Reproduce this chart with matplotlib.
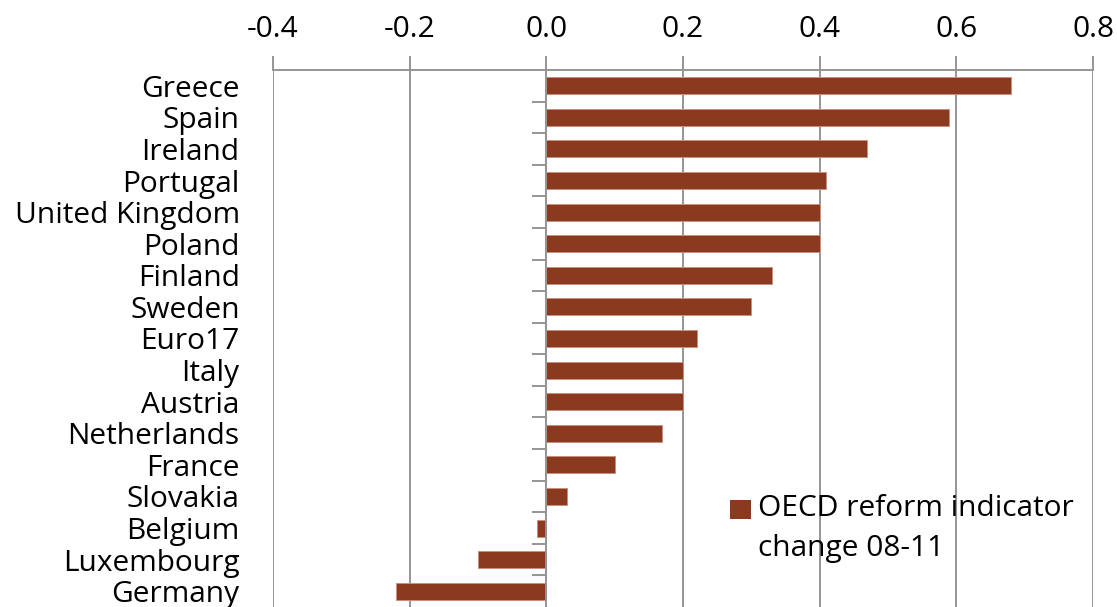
import matplotlib
matplotlib.use("Agg")
import matplotlib.pyplot as plt
from matplotlib.patches import Rectangle

countries = ["Greece", "Spain", "Ireland", "Portugal", "United Kingdom", "Poland",
             "Finland", "Sweden", "Euro17", "Italy", "Austria", "Netherlands",
             "France", "Slovakia", "Belgium", "Luxembourg", "Germany"]
values = [0.68, 0.59, 0.47, 0.41, 0.40, 0.40, 0.33, 0.30, 0.22, 0.20, 0.20,
          0.17, 0.10, 0.03, -0.013, -0.10, -0.22]
xticks = [-0.4, -0.2, 0.0, 0.2, 0.4, 0.6, 0.8]
legendLabel = "OECD reform indicator\nchange 08-11"

barColor = "#8B3A20"
gridColor = "#959595"
fontSize = 21.5

plt.rcParams['font.family'] = ['Open Sans', 'DejaVu Sans']

fig = plt.figure(figsize=(11.17, 6.07), dpi=100)
ax = fig.add_axes([273 / 1117, 0, 820 / 1117, 537 / 607])

pos = list(range(len(countries)))
ax.barh(pos, values, height=0.54, color=barColor, edgecolor="#c9907f", linewidth=0.7, zorder=3)

ax.set_xlim(-0.4, 0.8)
ax.set_ylim(len(countries) - 0.5, -0.5)

# x axis on top
ax.xaxis.set_ticks_position('top')
ax.set_xticks(xticks)
ax.set_xticklabels(["%.1f" % t for t in xticks])
ax.tick_params(axis='x', which='major', direction='out', length=10, width=1.4,
               color=gridColor, pad=9, labelsize=fontSize)
ax.grid(axis='x', color=gridColor, linewidth=1.4, zorder=1)

# y axis: labels at the left, category ticks on the zero line
ax.set_yticks(pos)
ax.set_yticklabels(countries)
ax.set_yticks([p + 0.5 for p in pos[:-1]], minor=True)
ax.yaxis.set_ticks_position('both')
ax.tick_params(axis='y', which='major', left=False, right=False, labelleft=True,
               length=0, pad=24, labelsize=fontSize)
ax.tick_params(axis='y', which='minor', left=False, right=True, direction='in',
               length=10, width=1.4, color=gridColor)
ax.spines['right'].set_position(('data', 0))
ax.spines['right'].set_color(gridColor)
ax.spines['right'].set_linewidth(1.4)
ax.spines['right'].set_zorder(4)
ax.spines['left'].set_visible(False)
ax.spines['bottom'].set_visible(False)
ax.spines['top'].set_color(gridColor)
ax.spines['top'].set_linewidth(1.4)

# legend drawn by hand so the marker sits next to the first line
ax.add_patch(Rectangle((0.557, 0.163), 0.026, 0.037, transform=ax.transAxes,
                       facecolor=barColor, edgecolor='none', zorder=5, clip_on=False))
ax.text(0.591, 0.210, legendLabel, transform=ax.transAxes, fontsize=fontSize,
        va='top', ha='left', linespacing=1.5, zorder=5)

fig.savefig("out.png", dpi=100)
